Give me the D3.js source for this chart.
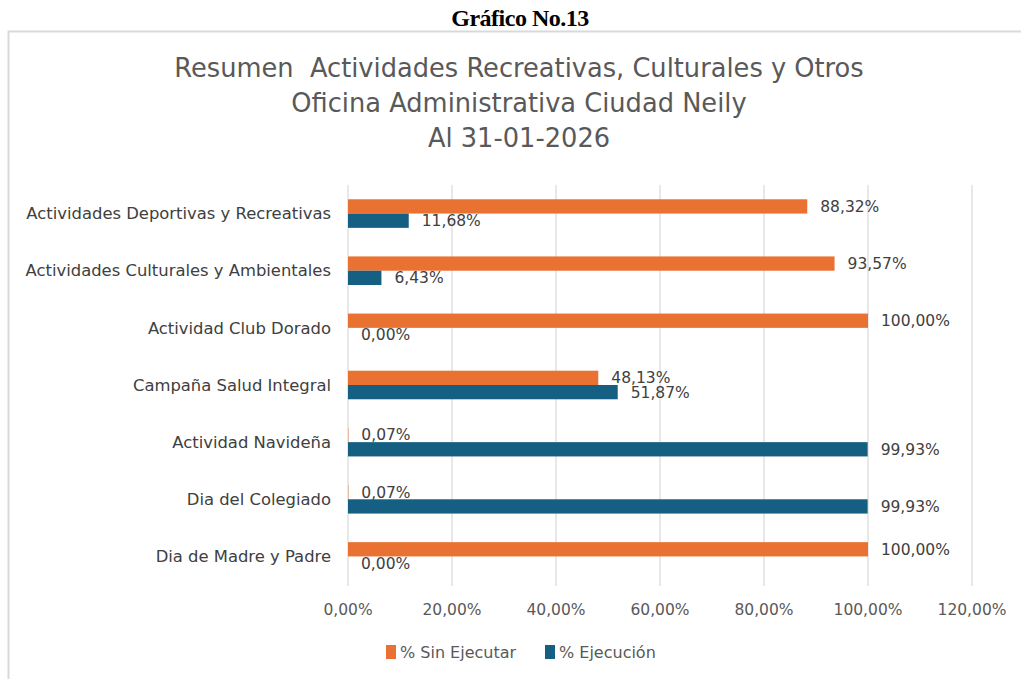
<!DOCTYPE html>
<html>
<head>
<meta charset="utf-8">
<script src="https://cdn.jsdelivr.net/npm/d3@7"></script>
<style>
  body { margin: 0; background: #fff; }
  svg { display: block; font-family: "DejaVu Sans", sans-serif; }
</style>
</head>
<body>
<script>
// data
var categories = [
  "Actividades Deportivas y Recreativas",
  "Actividades Culturales y Ambientales",
  "Actividad Club Dorado",
  "Campaña Salud Integral",
  "Actividad Navideña",
  "Dia del Colegiado",
  "Dia de Madre y Padre"
];
var sinEjecutar = [88.32, 93.57, 100, 48.13, 0.07, 0.07, 100];
var ejecucion = [11.68, 6.43, 0, 51.87, 99.93, 99.93, 0];
var seriesNames = ["% Sin Ejecutar", "% Ejecución"];
var seriesColors = ["#E97132", "#156082"];
var xTicks = [0, 20, 40, 60, 80, 100, 120];
var titleLines = [
  "Resumen  Actividades Recreativas, Culturales y Otros",
  "Oficina Administrativa Ciudad Neily",
  "Al 31-01-2026"
];

var width = 1021, height = 679;

var svg = d3.select("body").append("svg")
    .attr("width", width)
    .attr("height", height);

var pct = function(v) { return d3.format(".2f")(v).replace(".", ",") + "%"; };

// heading above the chart frame
svg.append("text")
    .attr("x", 520).attr("y", 26)
    .attr("text-anchor", "middle")
    .style("font-family", "'Liberation Serif', serif")
    .style("font-weight", "bold")
    .style("font-size", "24px")
    .style("letter-spacing", "-0.5px")
    .attr("fill", "#000")
    .text("Gráfico No.13");

// chart frame
svg.append("path")
    .attr("d", "M8.5,679 V31.5 H1021")
    .attr("fill", "none")
    .attr("stroke", "#d9d9d9")
    .attr("stroke-width", 2);

// title
svg.append("g").selectAll("text")
    .data(titleLines)
    .enter().append("text")
    .attr("x", 519)
    .attr("y", function(d, i) { return 77 + i * 35; })
    .attr("text-anchor", "middle")
    .style("font-size", "25.7px")
    .style("white-space", "pre")
    .attr("fill", "#595959")
    .text(function(d) { return d; });

var x = d3.scaleLinear().domain([0, 120]).range([348, 972]);
var y = d3.scaleBand().domain(categories).range([185, 585])
    .paddingInner(0.5).paddingOuter(0.25);
var ySub = d3.scaleBand().domain(seriesNames).range([0, y.bandwidth()]);

// gridlines
svg.append("g").selectAll("line")
    .data(xTicks)
    .enter().append("line")
    .attr("x1", function(d) { return x(d); })
    .attr("x2", function(d) { return x(d); })
    .attr("y1", 185).attr("y2", 586)
    .attr("stroke", "#d9d9d9")
    .attr("stroke-width", 1.2);

// x axis labels
svg.append("g").selectAll("text")
    .data(xTicks)
    .enter().append("text")
    .attr("x", function(d) { return x(d); })
    .attr("y", 610)
    .attr("dy", "0.35em")
    .attr("text-anchor", "middle")
    .style("font-size", "15.5px")
    .attr("fill", "#595959")
    .text(pct);

// category labels
svg.append("g").selectAll("text")
    .data(categories)
    .enter().append("text")
    .attr("x", 331)
    .attr("y", function(d) { return y(d) + y.bandwidth() / 2; })
    .attr("dy", "0.35em")
    .attr("text-anchor", "end")
    .style("font-size", "16.4px")
    .attr("fill", "#404040")
    .text(function(d) { return d; });

var allSeries = [sinEjecutar, ejecucion];
var rows = [];
allSeries.forEach(function(vals, s) {
  vals.forEach(function(v, i) {
    rows.push({ cat: categories[i], series: seriesNames[s], color: seriesColors[s], value: v });
  });
});

var bars = svg.append("g");
bars.selectAll("rect")
    .data(rows)
    .enter().append("rect")
    .attr("x", x(0))
    .attr("y", function(d) { return y(d.cat) + ySub(d.series); })
    .attr("width", function(d) { return x(d.value) - x(0); })
    .attr("height", ySub.bandwidth())
    .attr("fill", function(d) { return d.color; });

bars.selectAll("text")
    .data(rows)
    .enter().append("text")
    .attr("x", function(d) { return x(d.value) + 13; })
    .attr("y", function(d) { return y(d.cat) + ySub(d.series) + ySub.bandwidth() / 2; })
    .attr("dy", "0.35em")
    .style("font-size", "15.5px")
    .attr("fill", "#404040")
    .text(function(d) { return pct(d.value); });

// legend
var legend = svg.append("g").selectAll("g")
    .data(seriesNames)
    .enter().append("g")
    .attr("transform", function(d, i) { return "translate(" + [386, 545][i] + ",652)"; });
legend.append("rect")
    .attr("x", 0).attr("y", -7)
    .attr("width", 10).attr("height", 14)
    .attr("fill", function(d, i) { return seriesColors[i]; });
legend.append("text")
    .attr("x", 14).attr("y", 0)
    .attr("dy", "0.35em")
    .style("font-size", "16px")
    .attr("fill", "#595959")
    .text(function(d) { return d; });
</script>
</body>
</html>
